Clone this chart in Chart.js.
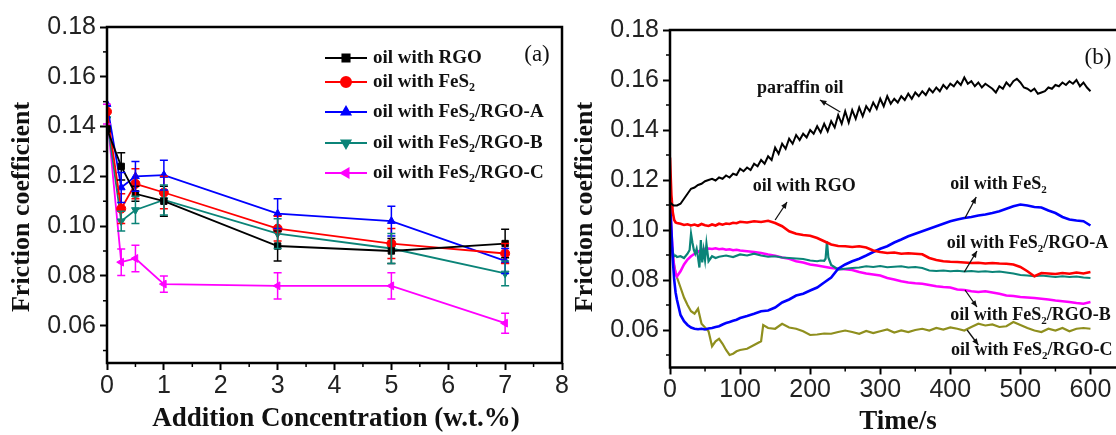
<!DOCTYPE html>
<html>
<head>
<meta charset="utf-8">
<script src="https://cdn.jsdelivr.net/npm/chart.js@4.4.1/dist/chart.umd.min.js"></script>
<style>
  html, body { margin: 0; padding: 0; background: #fff; overflow: hidden; }
  #wrap { position: relative; width: 1116px; height: 435px; overflow: hidden; }
  #chartA { position: absolute; left: 0; top: 0; }
  #chartB { position: absolute; left: 560px; top: 0; }
</style>
</head>
<body>
<div id="wrap">
  <canvas id="chartA" width="580" height="435"></canvas>
  <canvas id="chartB" width="580" height="435"></canvas>
</div>
<script>
// --- Panel (a): friction coefficient vs addition concentration ---
const concentration = [0, 0.25, 0.5, 1, 3, 5, 7];
const rgoMu   = [0.139, 0.124, 0.113, 0.110, 0.092, 0.090, 0.093];
const rgoErr  = [0, 0.0055, 0.003, 0.006, 0.006, 0.005, 0.0057];
const fes2Mu  = [0.146, 0.107, 0.117, 0.1135, 0.099, 0.093, 0.089];
const fes2Err = [0, 0.006, 0.006, 0.0065, 0.005, 0.006, 0.004];
const rgoAMu  = [0.149, 0.1155, 0.120, 0.1205, 0.105, 0.102, 0.086];
const rgoAErr = [0, 0.006, 0.006, 0.006, 0.006, 0.006, 0.005];
const rgoBMu  = [0.143, 0.102, 0.1065, 0.1105, 0.097, 0.091, 0.081];
const rgoBErr = [0, 0.004, 0.0055, 0.006, 0.006, 0.006, 0.005];
const rgoCMu  = [0.145, 0.0855, 0.087, 0.0767, 0.076, 0.076, 0.061];
const rgoCErr = [0.004, 0.0053, 0.0053, 0.0033, 0.0053, 0.0053, 0.004];

// --- Panel (b): friction coefficient vs time ---
const timeParaffin = [0,5,10,15,20,25,30,35,40,45,50,55,60,65,70,75,80,85,90,95,
  100,105,110,115,120,125,130,135,140,145,150,155,160,165,170,175,180,185,190,195,
  200,205,210,215,220,225,230,235,240,245,250,255,260,265,270,275,280,285,290,295,
  300,305,310,315,320,325,330,335,340,345,350,355,360,365,370,375,380,385,390,395,
  400,405,410,415,420,425,430,435,440,445,450,455,460,465,470,475,480,485,490,495,
  500,505,510,515,520,525,530,535,540,545,550,555,560,565,570,575,580,585,590,595,600];
const paraffinMu = [0.111,0.1098,0.1098,0.1105,0.1125,0.1145,0.1165,0.117,0.118,0.1185,0.1195,0.120,0.1205,0.1198,0.121,0.1205,0.1218,0.121,0.1225,0.122,
  0.1245,0.1235,0.125,0.124,0.1265,0.1255,0.128,0.1265,0.1295,0.128,0.133,0.1305,0.1345,0.1325,0.1365,0.1345,0.138,0.136,0.1385,0.137,
  0.140,0.1385,0.1415,0.139,0.1425,0.1395,0.1435,0.141,0.146,0.1425,0.1475,0.143,0.148,0.1445,0.149,0.1455,0.1495,0.1475,0.151,0.1485,
  0.1525,0.1495,0.1535,0.1505,0.1525,0.151,0.1535,0.152,0.1545,0.1525,0.155,0.1535,0.1555,0.154,0.1565,0.155,0.157,0.1555,0.158,0.1565,
  0.1585,0.1575,0.1595,0.158,0.161,0.1585,0.1595,0.1575,0.159,0.157,0.1585,0.1575,0.1565,0.155,0.1575,0.1565,0.159,0.1575,0.1595,0.1605,
  0.159,0.157,0.1565,0.1555,0.1565,0.1545,0.155,0.1555,0.157,0.1565,0.158,0.1575,0.159,0.158,0.1595,0.1585,0.160,0.1575,0.159,0.157,0.1555];

const timeB = [0,2,4,6,8,10,15,20,25,30,35,40,45,50,55,60,65,70,75,80,85,90,95,100,
  110,120,130,140,150,160,170,180,190,200,210,220,230,240,250,260,270,280,290,300,
  310,320,330,340,350,360,370,380,390,400,410,420,430,440,450,460,470,480,490,500,
  510,520,530,540,550,560,570,580,590,600];
const rgoTimeMu = [0.129,0.114,0.107,0.104,0.103,0.1028,
  0.1025,0.102,0.1023,0.1018,0.1022,0.1017,0.1024,0.1019,0.1016,0.1022,0.1018,0.1025,0.1021,0.1026,0.1024,0.1029,0.1027,0.1033,
  0.103,0.1035,0.1032,0.1037,0.1028,0.1015,0.0995,0.0985,0.098,0.0977,
  0.0968,0.0955,0.0942,0.0936,0.0935,0.0932,0.0935,0.093,0.0918,0.0912,
  0.0908,0.091,0.0905,0.0907,0.0905,0.0903,0.0888,0.088,0.0875,0.0873,
  0.0872,0.087,0.0868,0.0869,0.0866,0.0868,0.0866,0.0865,0.0862,0.0852,
  0.0835,0.0815,0.0828,0.0826,0.0824,0.0828,0.0825,0.083,0.0826,0.0832];
const fes2TimeMu = [0.112,0.100,0.088,0.080,0.075,0.072,
  0.066,0.0635,0.062,0.061,0.0605,0.0603,0.0605,0.0602,0.0606,0.0608,0.0612,0.0615,0.0622,0.0628,0.0632,0.0637,0.0641,0.0648,
  0.0656,0.0665,0.0675,0.0678,0.069,0.071,0.0722,0.0738,0.0745,0.0758,
  0.077,0.079,0.081,0.0845,0.0862,0.0875,0.0885,0.0898,0.0912,0.0925,
  0.0935,0.095,0.0962,0.0975,0.0985,0.0995,0.1005,0.1015,0.1025,0.1035,
  0.1042,0.1048,0.1052,0.1058,0.1062,0.1068,0.1075,0.1085,0.1095,0.1102,
  0.1098,0.1092,0.109,0.1078,0.1068,0.1052,0.1042,0.1038,0.1035,0.1018];
const rgoBTimeMu = [0.112,0.100,0.090,0.085,0.0825,0.0815,
  0.0835,0.0862,0.0882,0.0895,0.0905,0.0913,0.092,0.0925,0.0926,0.0924,0.0927,0.0923,0.0925,0.0921,0.0923,0.0919,0.0921,0.0918,
  0.0915,0.0912,0.0908,0.0902,0.0897,0.089,0.0885,0.0875,0.087,0.0862,
  0.0858,0.0853,0.0848,0.0845,0.0843,0.084,0.0832,0.0826,0.0822,0.0818,
  0.0808,0.0802,0.0795,0.079,0.0787,0.0785,0.078,0.0775,0.0772,0.077,
  0.0762,0.076,0.0755,0.0752,0.0755,0.075,0.0745,0.0738,0.0736,0.0732,
  0.073,0.0728,0.0725,0.0722,0.0718,0.0715,0.0712,0.0708,0.0705,0.0712];

const timeC = [0,2,4,6,8,10,15,20,25,30,35,40,45,50,55,60,65,70,75,80,85,90,95,100,
  110,120,130,133,140,150,160,170,180,190,200,210,220,230,240,250,260,270,280,290,300,
  310,320,330,340,350,360,370,380,390,400,410,420,430,440,450,460,470,480,490,500,
  510,520,530,540,550,560,570,580,590,600];
const rgoCTimeMu = [0.101,0.095,0.090,0.086,0.083,0.081,
  0.077,0.073,0.070,0.0675,0.0665,0.0685,0.0625,0.061,0.0595,0.0535,0.0555,0.0565,0.0545,0.052,0.050,0.0505,0.0515,0.052,
  0.0525,0.054,0.0555,0.062,0.0608,0.0605,0.0625,0.061,0.0605,0.0595,0.058,
  0.0582,0.0586,0.0585,0.0592,0.0598,0.0592,0.0585,0.0596,0.0588,0.0595,
  0.0602,0.059,0.0598,0.0592,0.060,0.0605,0.0598,0.0608,0.0602,0.061,
  0.0605,0.0598,0.0612,0.0625,0.0618,0.0622,0.0612,0.0615,0.0632,0.062,
  0.0608,0.0598,0.0592,0.0605,0.0598,0.0608,0.0595,0.0605,0.0608,0.0605];

const timeA = [0,2,4,6,8,10,15,20,25,28,30,32,34,36,38,40,42,44,46,48,50,52,55,60,65,70,
  80,90,100,110,120,130,140,150,160,170,180,190,200,210,215,220,222,224,226,228,230,
  240,250,260,270,280,290,300,310,320,330,340,350,360,370,380,390,400,410,420,430,
  440,450,460,470,480,490,500,510,520,530,540,550,560,570,580,590,600];
const rgoATimeMu = [0.1005,0.095,0.091,0.0895,0.0898,0.0892,0.0895,0.0888,0.0905,
  0.092,0.0985,0.095,0.092,0.0905,0.0925,0.089,0.085,0.096,0.087,0.092,0.088,0.0945,
  0.0875,0.0895,0.0888,0.0893,
  0.0898,0.0892,0.0902,0.0898,0.0905,0.0898,0.0893,0.0895,0.089,0.0888,0.0886,0.0884,0.0878,0.0875,
  0.0878,0.0877,0.0885,0.0955,0.089,0.0875,0.086,
  0.0842,0.0845,0.0848,0.085,0.0855,0.0852,0.0856,0.0851,0.0853,0.0855,0.085,0.0852,0.0848,0.0838,
  0.0836,0.0838,0.0835,0.0837,0.0834,0.0836,0.0833,0.0835,0.0832,0.0834,0.083,0.0826,0.082,0.0818,
  0.0815,0.0818,0.0815,0.0812,0.0815,0.0812,0.0814,0.081,0.0808];

// --- Axis ticks ---
const yTicks = [0.06, 0.08, 0.10, 0.12, 0.14, 0.16, 0.18];
const yMinor = [0.05, 0.07, 0.09, 0.11, 0.13, 0.15, 0.17];
const xTicksA = [0, 1, 2, 3, 4, 5, 6, 7, 8];
const xMinorA = [0.5, 1.5, 2.5, 3.5, 4.5, 5.5, 6.5, 7.5];
const xTicksB = [0, 100, 200, 300, 400, 500, 600];
const xMinorB = [50, 150, 250, 350, 450, 550];

// --- Panel (b) callouts (data coordinates) ---
const noteText = [['paraffin oil'], ['oil with RGO'], ['oil with FeS', '_2'],
  ['oil with FeS', '_2', '/RGO-A'], ['oil with FeS', '_2', '/RGO-B'], ['oil with FeS', '_2', '/RGO-C']];
const noteAt = [[124, 0.1568], [118, 0.1176], [400, 0.1184], [395, 0.0948], [400, 0.066], [401, 0.052]];
const arrowFrom = [[243, 0.1472], [150, 0.104], [421, 0.1048], [420, 0.0832], [421, 0.076], [424, 0.060]];
const arrowTo = [[214, 0.152], [167, 0.1112], [437, 0.1132], [438, 0.0916], [438, 0.0692], [440, 0.054]];

const SANS = "'Liberation Sans', Arial, sans-serif";
const SERIF = "'Liberation Serif', 'Times New Roman', serif";

function drawRich(ctx, x, y, parts, size) {
  let cx = x;
  parts.forEach(p => {
    const sub = p.startsWith('_');
    const s = sub ? p.slice(1) : p;
    ctx.font = `bold ${sub ? Math.round(size * 0.62) : size}px ${SERIF}`;
    ctx.fillText(s, cx, sub ? y + size * 0.32 : y);
    cx += ctx.measureText(s).width;
  });
}

function drawArrow(ctx, x1, y1, x2, y2) {
  const ang = Math.atan2(y2 - y1, x2 - x1);
  ctx.beginPath();
  ctx.moveTo(x1, y1);
  ctx.lineTo(x2, y2);
  ctx.stroke();
  ctx.beginPath();
  ctx.moveTo(x2, y2);
  ctx.lineTo(x2 - 7 * Math.cos(ang - 0.4), y2 - 7 * Math.sin(ang - 0.4));
  ctx.lineTo(x2 - 7 * Math.cos(ang + 0.4), y2 - 7 * Math.sin(ang + 0.4));
  ctx.closePath();
  ctx.fill();
}

// frame, minor ticks and axis titles
const framePlugin = {
  id: 'frame',
  afterDraw(chart, args, opts) {
    const ctx = chart.ctx, a = chart.chartArea;
    const xs = chart.scales.x, ys = chart.scales.y;
    ctx.save();
    ctx.strokeStyle = '#000';
    ctx.lineWidth = 2.5;
    ctx.strokeRect(a.left, a.top, a.right - a.left, a.bottom - a.top);

    ctx.lineWidth = 1.5;
    opts.xMinor.forEach(v => {
      const px = xs.getPixelForValue(v);
      ctx.beginPath(); ctx.moveTo(px, a.bottom); ctx.lineTo(px, a.bottom + 4); ctx.stroke();
    });
    opts.yMinor.forEach(v => {
      const py = ys.getPixelForValue(v);
      ctx.beginPath(); ctx.moveTo(a.left, py); ctx.lineTo(a.left - 4, py); ctx.stroke();
    });

    ctx.fillStyle = '#111';
    ctx.textAlign = 'center';
    ctx.textBaseline = 'middle';
    ctx.font = `bold 27px ${SERIF}`;
    ctx.fillText(opts.xTitle, opts.xTitleAt[0], opts.xTitleAt[1]);
    ctx.save();
    ctx.translate(opts.yTitleAt[0], opts.yTitleAt[1]);
    ctx.rotate(-Math.PI / 2);
    ctx.font = `bold 26px ${SERIF}`;
    ctx.fillText('Friction coefficient', 0, 0);
    ctx.restore();

    ctx.font = `23px ${SERIF}`;
    ctx.fillText(opts.tag, opts.tagAt[0], opts.tagAt[1]);
    ctx.restore();
  }
};

// vertical error bars for panel (a)
const errorBarPlugin = {
  id: 'errorBars',
  afterDatasetsDraw(chart) {
    const ctx = chart.ctx, ys = chart.scales.y;
    chart.data.datasets.forEach((ds, i) => {
      if (!ds.errors) return;
      const meta = chart.getDatasetMeta(i);
      ctx.save();
      ctx.strokeStyle = ds.borderColor;
      ctx.lineWidth = 1.5;
      meta.data.forEach((pt, j) => {
        const e = ds.errors[j];
        if (!e) return;
        const v = ds.data[j].y;
        const top = ys.getPixelForValue(v + e), bot = ys.getPixelForValue(v - e);
        ctx.beginPath();
        ctx.moveTo(pt.x, top); ctx.lineTo(pt.x, bot);
        ctx.moveTo(pt.x - 4, top); ctx.lineTo(pt.x + 4, top);
        ctx.moveTo(pt.x - 4, bot); ctx.lineTo(pt.x + 4, bot);
        ctx.stroke();
      });
      ctx.restore();
    });
  }
};

// legend for panel (a) with subscripts
const legendAPlugin = {
  id: 'legendA',
  afterDraw(chart) {
    const ctx = chart.ctx;
    ctx.save();
    ctx.textAlign = 'left';
    ctx.textBaseline = 'middle';
    const rows = [58, 82, 112, 143, 173];
    chart.data.datasets.forEach((ds, i) => {
      const y = rows[i];
      ctx.strokeStyle = ds.borderColor;
      ctx.fillStyle = ds.borderColor;
      ctx.lineWidth = 2;
      ctx.beginPath(); ctx.moveTo(325, y); ctx.lineTo(367, y); ctx.stroke();
      Chart.helpers.drawPoint(ctx, { pointStyle: ds.pointStyle, rotation: ds.pointRotation, radius: 5, borderWidth: 1 }, 346, y);
      ctx.fillStyle = '#111';
      drawRich(ctx, 373, y, ds.textParts, 19);
    });
    ctx.restore();
  }
};

// callouts for panel (b)
const notesBPlugin = {
  id: 'notesB',
  afterDraw(chart) {
    const ctx = chart.ctx, xs = chart.scales.x, ys = chart.scales.y;
    ctx.save();
    ctx.textAlign = 'left';
    ctx.textBaseline = 'middle';
    ctx.fillStyle = '#111';
    ctx.strokeStyle = '#111';
    ctx.lineWidth = 1.3;
    noteText.forEach((parts, i) => {
      drawRich(ctx, xs.getPixelForValue(noteAt[i][0]), ys.getPixelForValue(noteAt[i][1]), parts, 18);
      drawArrow(ctx,
        xs.getPixelForValue(arrowFrom[i][0]), ys.getPixelForValue(arrowFrom[i][1]),
        xs.getPixelForValue(arrowTo[i][0]), ys.getPixelForValue(arrowTo[i][1]));
    });
    ctx.restore();
  }
};

function axes(xMin, xMax, xTicks, xFmt, xHeight) {
  const tickFont = { family: SANS, size: 25 };
  return {
    x: {
      type: 'linear', min: xMin, max: xMax,
      afterBuildTicks: axis => { axis.ticks = xTicks.map(v => ({ value: v })); },
      afterFit: axis => { axis.height = xHeight; },
      grid: { drawOnChartArea: false, tickLength: 7, tickWidth: 2, tickColor: '#000' },
      border: { display: false },
      ticks: { font: tickFont, color: '#222', padding: 1, maxRotation: 0, callback: xFmt }
    },
    y: {
      type: 'linear', min: 0.045, max: 0.18,
      afterBuildTicks: axis => { axis.ticks = yTicks.map(v => ({ value: v })); },
      afterFit: axis => { axis.width = 0; },
      grid: { drawOnChartArea: false, tickLength: 7, tickWidth: 2, tickColor: '#000' },
      border: { display: false },
      ticks: { font: tickFont, color: '#222', padding: 4, callback: v => v.toFixed(2) }
    }
  };
}

function seriesA(label, textParts, mu, err, color, style, rot) {
  return {
    label, textParts,
    data: concentration.map((c, i) => ({ x: c, y: mu[i] })),
    errors: err,
    borderColor: color, backgroundColor: color,
    borderWidth: 1.8, tension: 0,
    pointStyle: style, pointRotation: rot, pointRadius: 4.5, pointBorderWidth: 1
  };
}

function seriesB(times, mu, color, width) {
  return {
    data: times.map((t, i) => ({ x: t, y: mu[i] })),
    borderColor: color, borderWidth: width, pointRadius: 0, tension: 0
  };
}

// Panel (a)
const optsA = axes(0, 8, xTicksA, v => String(v), 72);
optsA.y.afterFit = axis => { axis.width = 107; };
new Chart(document.getElementById('chartA'), {
  type: 'line',
  data: {
    datasets: [
      seriesA('oil with RGO', ['oil with RGO'], rgoMu, rgoErr, '#000000', 'rect', 0),
      seriesA('oil with FeS2', ['oil with FeS', '_2'], fes2Mu, fes2Err, '#ff0000', 'circle', 0),
      seriesA('oil with FeS2/RGO-A', ['oil with FeS', '_2', '/RGO-A'], rgoAMu, rgoAErr, '#0000ff', 'triangle', 0),
      seriesA('oil with FeS2/RGO-B', ['oil with FeS', '_2', '/RGO-B'], rgoBMu, rgoBErr, '#0b8478', 'triangle', 180),
      seriesA('oil with FeS2/RGO-C', ['oil with FeS', '_2', '/RGO-C'], rgoCMu, rgoCErr, '#ff00ff', 'triangle', 270)
    ]
  },
  options: {
    responsive: false, animation: false, devicePixelRatio: 1,
    layout: { padding: { left: 0, top: 27, right: 18, bottom: 0 } },
    plugins: {
      legend: { display: false }, tooltip: { enabled: false },
      frame: { xMinor: xMinorA, yMinor: yMinor, xTitle: 'Addition Concentration (w.t.%)',
               xTitleAt: [336, 419], yTitleAt: [22, 207], tag: '(a)', tagAt: [537, 55] }
    },
    scales: optsA
  },
  plugins: [errorBarPlugin, framePlugin, legendAPlugin]
});

// Panel (b)
const optsB = axes(0, 645, xTicksB, v => String(v), 67.5);
optsB.y.afterFit = axis => { axis.width = 110; };
new Chart(document.getElementById('chartB'), {
  type: 'line',
  data: {
    datasets: [
      seriesB(timeParaffin, paraffinMu, '#000000', 2),
      seriesB(timeB, rgoTimeMu, '#ff0000', 2.6),
      seriesB(timeB, fes2TimeMu, '#0000ff', 2.6),
      seriesB(timeA, rgoATimeMu, '#0b8478', 2.2),
      seriesB(timeB, rgoBTimeMu, '#ff00ff', 2.6),
      seriesB(timeC, rgoCTimeMu, '#8f8f1e', 2.2)
    ]
  },
  options: {
    responsive: false, animation: false, devicePixelRatio: 1,
    layout: { padding: { left: 0, top: 30, right: 18, bottom: 0 } },
    plugins: {
      legend: { display: false }, tooltip: { enabled: false },
      frame: { xMinor: xMinorB, yMinor: yMinor, xTitle: 'Time/s',
               xTitleAt: [338, 422], yTitleAt: [25, 207], tag: '(b)', tagAt: [538, 58] }
    },
    scales: optsB
  },
  plugins: [framePlugin, notesBPlugin]
});
</script>
</body>
</html>
